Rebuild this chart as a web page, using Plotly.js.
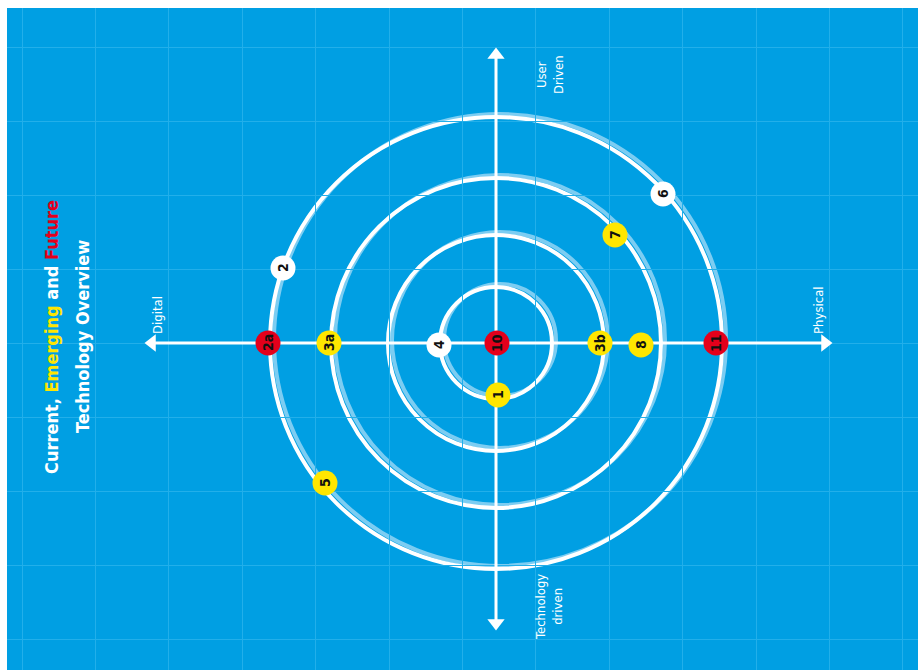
<!DOCTYPE html>
<html>
<head>
<meta charset="utf-8">
<script src="https://cdn.plot.ly/plotly-3.0.1.min.js"></script>
<style>html,body{margin:0;padding:0;background:#fff;}#chart{width:918px;height:670px;}</style>
</head>
<body>
<div id="chart"></div>
<script>
// ---- data (pixel-like units relative to the centre, y pointing up) ----
const ringRadii = [56, 108, 165, 226];
const pointLabels = ['1', '2', '2a', '3a', '3b', '4', '5', '6', '7', '8', '10', '11'];
const pointX = [2, -213, -228, -167, 104, -57, -171, 167, 119, 145, 1, 220];
const pointY = [-52, 75, 0, 0, 0, -2, -140, 149, 108, -2, 0, 0];
const pointStage = ['Emerging', 'Current', 'Future', 'Emerging', 'Emerging', 'Current', 'Emerging', 'Current', 'Emerging', 'Emerging', 'Future', 'Future'];
const stageColors = {Current: '#ffffff', Emerging: '#ffe600', Future: '#e3001b'};
const axisNames = ['User<br>Driven', 'Technology<br>driven', 'Digital', 'Physical'];
const axisNameX = [54, 53, -339, 322];
const axisNameY = [268, -264, 28, 33];
const axisTips = {up: 295, down: -287, left: -351, right: 336};
const titleLines = ['Current, <span style="color:#ffe600">Emerging</span> and <span style="color:#e3001b">Future</span>', 'Technology Overview'];
const titleLineX = [-445, -414];

const BLUE = '#009fe3';
const LIGHT = '#7ccdf2';
const condensed = '"DejaVu Sans Condensed", "Liberation Sans Narrow", sans-serif';

const shapes = [];
ringRadii.forEach(r => {
  shapes.push({type: 'circle', xref: 'x', yref: 'y', x0: -r + 4, x1: r + 4, y0: -r + 3, y1: r + 3,
    line: {color: LIGHT, width: 4}, layer: 'below'});
});
ringRadii.forEach(r => {
  shapes.push({type: 'circle', xref: 'x', yref: 'y', x0: -r, x1: r, y0: -r, y1: r,
    line: {color: '#ffffff', width: 4}, layer: 'below'});
});

const traces = [];
// axis lines
traces.push({x: [0, 0], y: [axisTips.down + 8, axisTips.up - 8], mode: 'lines', line: {color: '#fff', width: 3}, hoverinfo: 'skip', showlegend: false});
traces.push({x: [axisTips.left + 8, axisTips.right - 8], y: [0, 0], mode: 'lines', line: {color: '#fff', width: 3}, hoverinfo: 'skip', showlegend: false});
// arrow heads
traces.push({x: [0, 0, axisTips.left + 7, axisTips.right - 7], y: [axisTips.up - 7, axisTips.down + 7, 0, 0], mode: 'markers',
  marker: {symbol: ['triangle-up', 'triangle-down', 'triangle-left', 'triangle-right'], size: 15, color: '#fff', line: {width: 0}},
  hoverinfo: 'skip', showlegend: false});
// technology points
traces.push({x: pointX, y: pointY, mode: 'markers', text: pointLabels,
  marker: {size: 25, color: pointStage.map(s => stageColors[s]), line: {width: 0}},
  hoverinfo: 'text', showlegend: false});

const annotations = pointLabels.map((t, i) => ({x: pointX[i], y: pointY[i], xref: 'x', yref: 'y', text: '<b>' + t + '</b>',
  showarrow: false, textangle: -90, font: {family: condensed, size: 14, color: '#111'}}));
axisNames.forEach((t, i) => annotations.push({x: axisNameX[i], y: axisNameY[i], xref: 'x', yref: 'y', text: t,
  showarrow: false, textangle: -90, font: {family: condensed, size: 13, color: '#fff'}, align: 'center'}));
titleLines.forEach((t, i) => annotations.push({x: titleLineX[i], y: 6, xref: 'x', yref: 'y', showarrow: false, textangle: -90,
  text: '<b>' + t + '</b>', font: {family: condensed, size: 18, color: '#fff'}}));

const layout = {
  width: 918, height: 670,
  margin: {l: 7, r: 0, t: 8, b: 0},
  paper_bgcolor: '#ffffff', plot_bgcolor: BLUE,
  xaxis: {range: [-489, 422], showgrid: true, gridcolor: '#22afea', gridwidth: 1, tick0: -474, dtick: 73.4,
    zeroline: false, showticklabels: false, ticks: '', showline: false, fixedrange: true},
  yaxis: {range: [-327, 335], showgrid: true, gridcolor: '#22afea', gridwidth: 1, tick0: 0, dtick: 74,
    zeroline: false, showticklabels: false, ticks: '', showline: false, fixedrange: true},
  shapes: shapes, annotations: annotations, showlegend: false
};
Plotly.newPlot('chart', traces, layout, {displayModeBar: false, staticPlot: true});
</script>
</body>
</html>
